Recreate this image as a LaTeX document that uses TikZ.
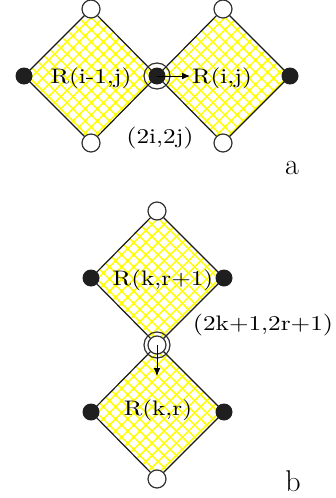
\documentclass[tikz,border=0pt]{standalone}
\usepackage{graphicx}
\usetikzlibrary{patterns.meta,arrows.meta}
\newcommand{\wide}[1]{\scalebox{1.2}[1]{#1}}
\begin{document}
\begin{tikzpicture}[
    x={(0.5pt,0pt)}, y={(0pt,-0.5pt)},
    cell/.style={draw=black!90, line width=0.6pt,
      preaction={fill=white},
      preaction={pattern={Lines[angle=45,distance=4.3pt,line width=0.75pt]}, pattern color=yellow},
      pattern={Lines[angle=-45,distance=4.3pt,line width=0.75pt]}, pattern color=yellow},
    wv/.style={circle, draw=black!80, fill=white, line width=0.6pt, inner sep=0pt, minimum size=9pt},
    bv/.style={circle, fill=black!88, inner sep=0pt, minimum size=8.5pt},
    ring/.style={circle, draw=black!80, line width=0.6pt, inner sep=0pt, minimum size=13pt},
    lab/.style={inner sep=0pt, font=\fontsize{10.5}{12}\selectfont},
    part/.style={inner sep=0pt, font=\fontsize{15}{18}\selectfont},
    arr/.style={-{Latex[length=4pt,width=3.4pt]}, line width=0.5pt}]
  \useasboundingbox (0,0) rectangle (336,498);
  % corners of the two cells in (a)
  \coordinate (aL)  at (24,76);
  \coordinate (aT1) at (91,9);
  \coordinate (aB1) at (91,143);
  \coordinate (aC)  at (157,76);
  \coordinate (aT2) at (223,9);
  \coordinate (aB2) at (223,143);
  \coordinate (aR)  at (290,76);
  % corners of the two cells in (b)
  \coordinate (bT)  at (157,211);
  \coordinate (bUL) at (91,278);
  \coordinate (bUR) at (224,278);
  \coordinate (bC)  at (157,345);
  \coordinate (bLL) at (91,412);
  \coordinate (bLR) at (224,412);
  \coordinate (bB)  at (157,479);
  \path[cell] (aL) -- (aT1) -- (aC) -- (aB1) -- cycle;
  \path[cell] (aC) -- (aT2) -- (aR) -- (aB2) -- cycle;
  \path[cell] (bT) -- (bUR) -- (bC) -- (bUL) -- cycle;
  \path[cell] (bC) -- (bLR) -- (bB) -- (bLL) -- cycle;
  % cell names and the shared site
  \node[lab] (ra1) at (91,78)  {\wide{R(i-1,j)}};
  \node[lab] (ra2) at (222,78) {\wide{R(i,j)}};
  \node[lab] (sa)  at (160,138) {\wide{$\bigl($2i,2j$\bigr)$}};
  \node[lab] (rb1) at (163,280) {\wide{R(k,r+1)}};
  \node[lab] (rb2) at (158,410) {\wide{R(k,r)}};
  \node[lab] (sb)  at (263,325) {\wide{$\bigl($2k+1,2r+1$\bigr)$}};
  \node[part] (pa) at (292,168) {a};
  \node[part] (pb) at (293,481) {b};
  % vertices
  \node[bv] (va1) at (aL)  {};
  \node[wv] (va2) at (aT1) {};
  \node[wv] (va3) at (aB1) {};
  \node[bv] (va4) at (aC)  {};
  \node[ring] (oa) at (aC) {};
  \node[wv] (va5) at (aT2) {};
  \node[wv] (va6) at (aB2) {};
  \node[bv] (va7) at (aR)  {};
  \node[wv] (vb1) at (bT)  {};
  \node[bv] (vb2) at (bUL) {};
  \node[bv] (vb3) at (bUR) {};
  \node[wv] (vb4) at (bC)  {};
  \node[ring] (ob) at (bC) {};
  \node[bv] (vb5) at (bLL) {};
  \node[bv] (vb6) at (bLR) {};
  \node[wv] (vb7) at (bB)  {};
  % moves
  \coordinate (ta) at (190,76);
  \coordinate (tb) at (157,376);
  \draw[arr] (va4.center) -- (ta);
  \draw[arr] (vb4.center) -- (tb);
\end{tikzpicture}
\end{document}
